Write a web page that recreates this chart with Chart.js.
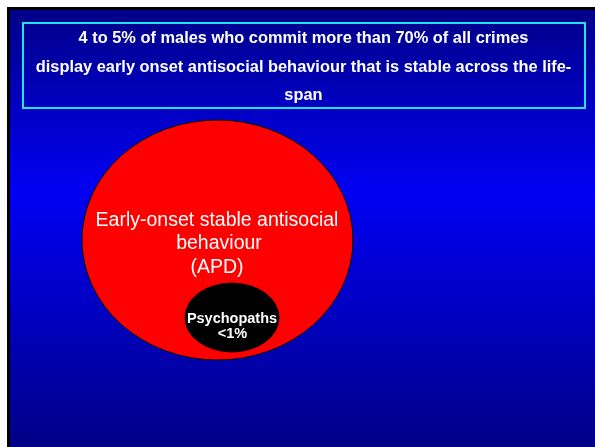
<!DOCTYPE html>
<html>
<head>
<meta charset="utf-8">
<script src="https://cdn.jsdelivr.net/npm/chart.js@4.4.1/dist/chart.umd.min.js"></script>
<style>
  html, body { margin: 0; padding: 0; background: #fff; }
  canvas { display: block; }
</style>
</head>
<body>
<canvas id="apdChart" width="595" height="447"></canvas>
<script>
// Texto do cabeçalho
const titleLines = [
    '4 to 5% of males who commit more than 70% of all crimes',
    'display early onset antisocial behaviour that is stable across the life-',
    'span'
];

// Grupos do diagrama (o maior primeiro)
const groups = ['APD', 'Psychopaths'];
const groupText = [
    ['Early-onset stable antisocial', 'behaviour', '(APD)'],
    ['Psychopaths', '<1%']
];
// centro e semi-eixos em unidades das escalas
const centerX = [217.5, 232];
const centerY = [240, 317.5];
const radiusX = [135.5, 47];
const radiusY = [120, 34.5];

const fillColors = ['#ff0000', '#000000'];

const FONT = '"Liberation Sans", Arial, sans-serif';

// Fundo do slide: gradiente azul, moldura branca/preta
const slideBackground = {
    id: 'slideBackground',
    beforeDraw(chart) {
        const { ctx, width, height } = chart;
        ctx.save();
        ctx.fillStyle = '#ffffff';
        ctx.fillRect(0, 0, width, height);
        const g = ctx.createLinearGradient(0, 9, 0, height);
        g.addColorStop(0, '#000088');
        g.addColorStop(0.42, '#0000f4');
        g.addColorStop(1, '#000086');
        ctx.fillStyle = g;
        ctx.fillRect(7, 7, width - 7, height - 7);
        ctx.fillStyle = '#000000';
        ctx.fillRect(7, 7, width - 7, 3);
        ctx.fillRect(7, 7, 3, height - 7);

        // caixa do título
        ctx.strokeStyle = '#1ee4f4';
        ctx.lineWidth = 2;
        ctx.strokeRect(23, 23, 562, 85);

        ctx.fillStyle = '#ffffff';
        ctx.font = 'bold 16.4px ' + FONT;
        ctx.textAlign = 'center';
        ctx.textBaseline = 'alphabetic';
        const baselines = [43, 72, 100];
        titleLines.forEach((t, i) => ctx.fillText(t, 303.5, baselines[i]));
        ctx.restore();
    }
};

// Estica cada bolha verticalmente para virar elipse
const ellipseStretch = {
    id: 'ellipseStretch',
    beforeDatasetDraw(chart, args) {
        const el = args.meta.data[0];
        const i = args.index;
        const ys = chart.scales.y;
        const ryPx = Math.abs(ys.getPixelForValue(centerY[i] + radiusY[i]) - ys.getPixelForValue(centerY[i]));
        const ctx = chart.ctx;
        ctx.save();
        ctx.translate(el.x, el.y);
        ctx.scale(1, ryPx / el.options.radius);
        ctx.translate(-el.x, -el.y);
    },
    afterDatasetDraw(chart) {
        chart.ctx.restore();
    },
    afterDatasetsDraw(chart) {
        const ctx = chart.ctx;
        ctx.save();
        ctx.fillStyle = '#ffffff';
        ctx.textAlign = 'center';
        ctx.textBaseline = 'alphabetic';
        // rótulos dos grupos
        const big = chart.getDatasetMeta(0).data[0];
        ctx.font = '19.5px ' + FONT;
        ctx.fillText(groupText[0][0], big.x - 0.5, big.y - 14);
        ctx.fillText(groupText[0][1], big.x + 1.5, big.y + 9);
        ctx.fillText(groupText[0][2], big.x - 0.5, big.y + 32.5);
        const small = chart.getDatasetMeta(1).data[0];
        ctx.font = 'bold 14.5px ' + FONT;
        ctx.fillText(groupText[1][0], small.x, small.y + 5);
        ctx.fillText(groupText[1][1], small.x + 0.5, small.y + 20.5);
        ctx.restore();
    }
};

const data = {
    datasets: groups.map((name, i) => ({
        label: name,
        data: [{ x: centerX[i], y: centerY[i], r: radiusX[i] }],
        backgroundColor: fillColors[i],
        borderColor: '#000000',
        borderWidth: 1,
        order: groups.length - i,
        clip: false
    }))
};

const config = {
    type: 'bubble',
    data: data,
    options: {
        responsive: false,
        animation: false,
        events: [],
        layout: { padding: 0, autoPadding: false },
        scales: {
            x: { type: 'linear', min: 0, max: 595, display: false },
            y: { type: 'linear', min: 0, max: 447, reverse: true, display: false }
        },
        plugins: {
            legend: { display: false },
            tooltip: { enabled: false },
            title: { display: false }
        }
    },
    plugins: [slideBackground, ellipseStretch]
};

const apdChart = new Chart(document.getElementById('apdChart').getContext('2d'), config);
</script>
</body>
</html>
